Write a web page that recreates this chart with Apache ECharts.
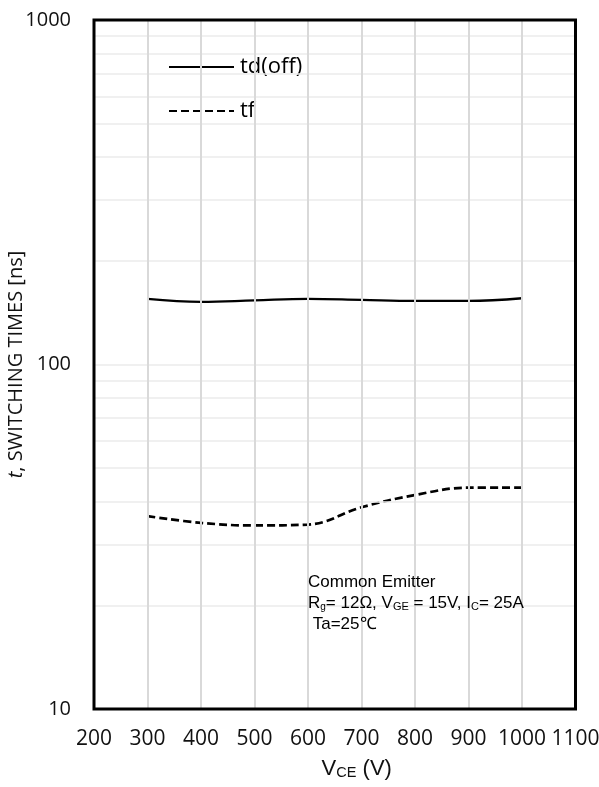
<!DOCTYPE html>
<html>
<head>
<meta charset="utf-8">
<script src="https://cdn.jsdelivr.net/npm/echarts@6/dist/echarts.min.js"></script>
<style>
  html, body { margin: 0; padding: 0; background: #fff; }
  #chart { width: 599px; height: 787px; }
</style>
</head>
<body>
<div id="chart"></div>
<script>
// Collector-emitter voltage (V)
const vce = [300, 400, 500, 600, 700, 800, 900, 1000];
// Turn-off delay time td(off), ns
const tdOff = [155, 152, 153.5, 155, 154, 153, 153, 155.7];
// Fall time tf, ns
const tf = [36.3, 34.7, 34.1, 34.3, 38.5, 41.8, 43.9, 43.9];

// Axis ranges and grid positions
const xTicks = [200, 300, 400, 500, 600, 700, 800, 900, 1000, 1100];
const xInnerGrid = [300, 400, 500, 600, 700, 800, 900, 1000];
const yMinorGrid = [20, 30, 40, 50, 60, 70, 80, 90, 100, 200, 300, 400, 500, 600, 700, 800, 900];

const pairs = (xs, ys) => xs.map((x, i) => [x, ys[i]]);

const tickFont = 'Open Sans';
const noteFont = 'Liberation Sans';
const chart = echarts.init(document.getElementById('chart'), null, { renderer: 'canvas' });

chart.setOption({
  animation: false,
  backgroundColor: '#ffffff',
  grid: {
    left: 94, right: 23.5, top: 20, bottom: 78, z: 10,
    containLabel: false, outerBoundsMode: 'none',
    show: true, borderColor: '#000', borderWidth: 3, backgroundColor: 'transparent'
  },
  legend: {
    left: 168, top: 56, padding: 0,
    orient: 'vertical',
    itemWidth: 65, itemHeight: 22, itemGap: 22,
    itemStyle: { opacity: 0 },
    textStyle: { fontFamily: tickFont, fontSize: 22, color: '#000', padding: [0, 0, 0, 1] },
    data: ['td(off)', 'tf']
  },
  xAxis: {
    type: 'value',
    min: xTicks[0], max: xTicks[xTicks.length - 1], interval: 100,
    axisLine: { show: false }, axisTick: { show: false },
    splitLine: { show: false },
    axisLabel: {
      fontFamily: tickFont, fontSize: 21, color: '#111', margin: 20,
      showMinLabel: true, showMaxLabel: true, hideOverlap: false,
      formatter: v => String(v)
    },
    name: '{n|V}{s|CE}{n| (V)}',
    nameLocation: 'middle', nameGap: 46, nameMoveOverlap: false,
    nameTextStyle: {
      fontFamily: noteFont, fontSize: 22, color: '#111',
      padding: [0, 0, 0, 44],
      rich: {
        n: { fontFamily: noteFont, fontSize: 22, color: '#111', lineHeight: 25, verticalAlign: 'bottom' },
        s: { fontFamily: noteFont, fontSize: 14.5, color: '#111', lineHeight: 14, verticalAlign: 'bottom' }
      }
    }
  },
  yAxis: {
    type: 'log', logBase: 10, min: 10, max: 1000,
    axisLine: { show: false }, axisTick: { show: false },
    splitLine: { show: false },
    axisLabel: {
      fontFamily: tickFont, fontSize: 20, color: '#111', margin: 23,
      formatter: v => String(Math.round(v))
    },
    name: '{i|t}{n|, SWITCHING TIMES [ns]}',
    nameLocation: 'middle', nameGap: 68, nameRotate: 90, nameMoveOverlap: false,
    nameTextStyle: {
      fontFamily: tickFont, fontSize: 20, color: '#111',
      rich: {
        i: { fontFamily: tickFont, fontSize: 20, fontStyle: 'italic', color: '#111' },
        n: { fontFamily: tickFont, fontSize: 20, color: '#111' }
      }
    }
  },
  series: [
    {
      // background grid lines drawn from axis values
      name: 'grid', type: 'line', data: [], z: 1, silent: true,
      markLine: {
        silent: true, symbol: 'none', animation: false,
        label: { show: false },
        data: [
          ...yMinorGrid.map(v => ({ yAxis: v, lineStyle: { color: '#ebebeb', width: 1.5, type: 'solid' } })),
          ...xInnerGrid.map(v => ({ xAxis: v, lineStyle: { color: '#d9d9d9', width: 2, type: 'solid' } }))
        ]
      }
    },
    {
      name: 'td(off)', type: 'line', z: 3,
      data: pairs(vce, tdOff),
      smooth: 0.4, showSymbol: false, symbol: 'none', symbolSize: 0,
      lineStyle: { color: '#000', width: 2.3, type: 'solid' },
      itemStyle: { color: '#000' }
    },
    {
      name: 'tf', type: 'line', z: 3,
      data: pairs(vce, tf),
      smooth: 0.4, showSymbol: false, symbol: 'none', symbolSize: 0,
      lineStyle: { color: '#000', width: 2.7, type: [8, 4] },
      itemStyle: { color: '#000' }
    }
  ],
  graphic: [
    {
      type: 'text', left: 308, top: 574, z: 10, silent: true,
      style: {
        text: '{n|Common Emitter}\n{n|R}{g|g}{n|= 12Ω, V}{s|GE}{n| = 15V, I}{s|C}{n|= 25A}\n{n| Ta=25℃}',
        rich: {
          n: { fontFamily: noteFont, fontSize: 17, color: '#000', lineHeight: 21, verticalAlign: 'bottom' },
          s: { fontFamily: noteFont, fontSize: 11, color: '#000', lineHeight: 11, verticalAlign: 'bottom' },
          g: { fontFamily: noteFont, fontSize: 10, color: '#000', lineHeight: 11, verticalAlign: 'bottom' }
        }
      }
    }
  ]
});
</script>
</body>
</html>
